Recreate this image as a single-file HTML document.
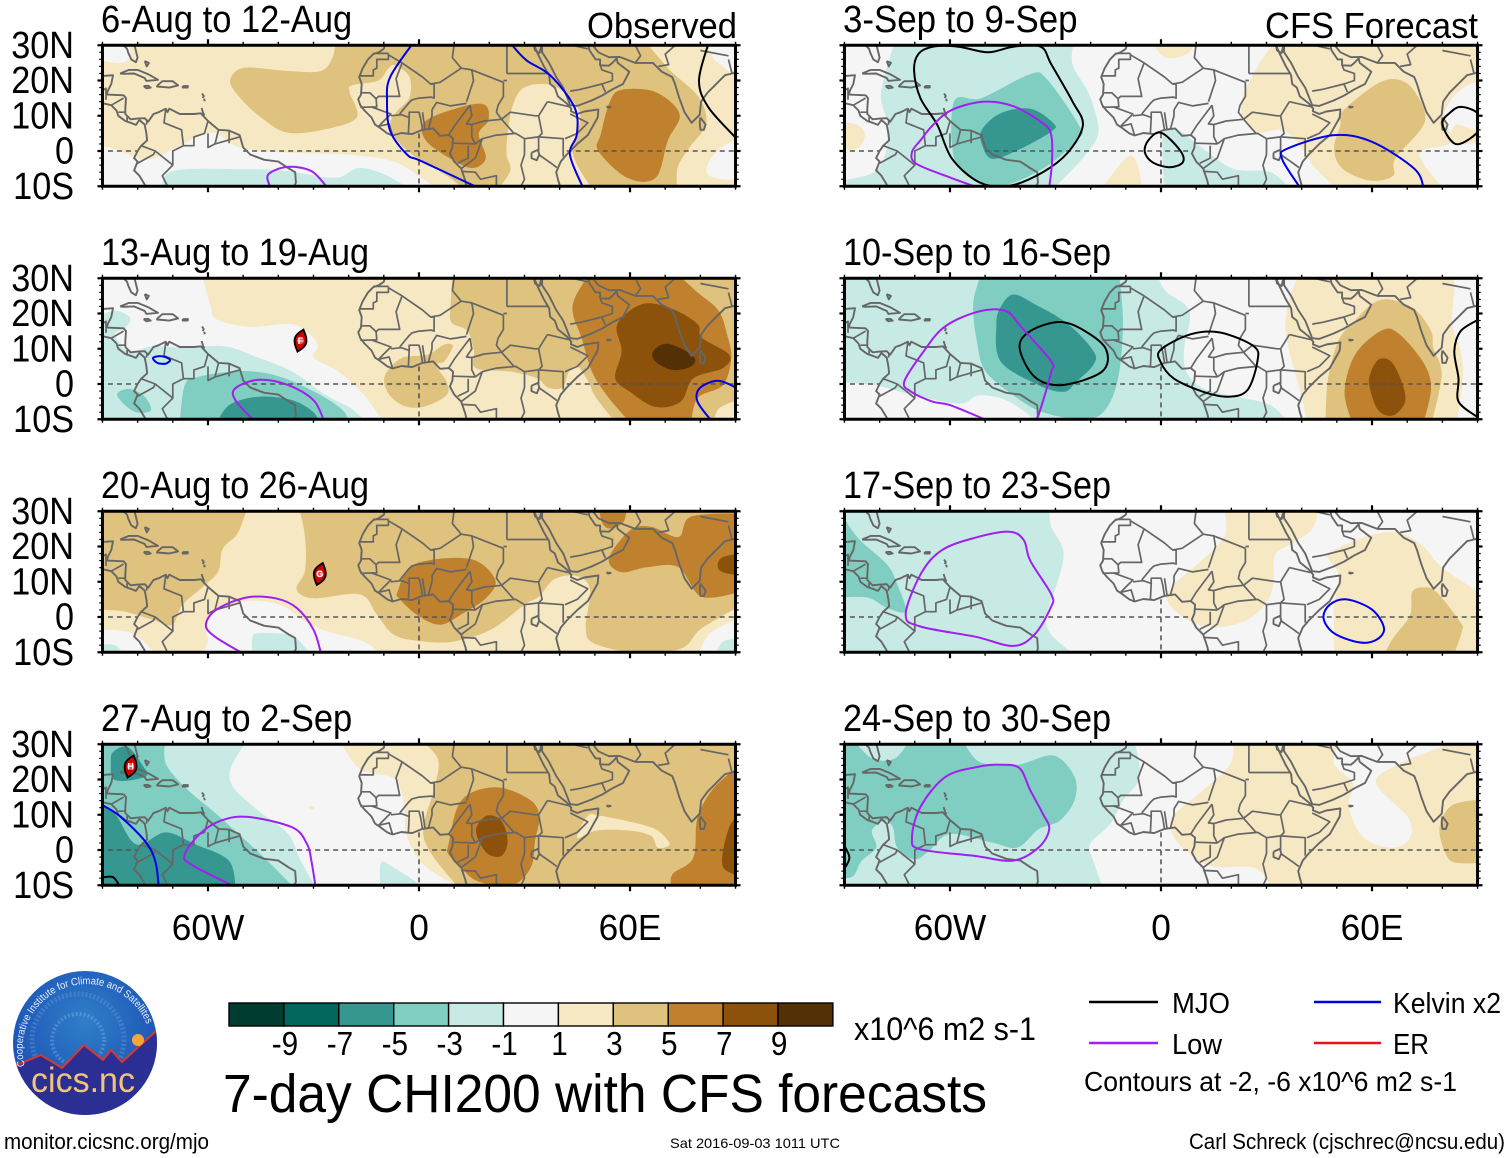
<!DOCTYPE html>
<html lang="en">
<head>
<meta charset="utf-8">
<title>7-day CHI200 with CFS forecasts</title>
<style>
html,body{margin:0;padding:0;background:#fff;width:1510px;height:1158px;overflow:hidden}
svg{display:block}
text{font-family:"Liberation Sans",sans-serif;fill:#000}
</style>
</head>
<body>
<svg id="chart" xmlns="http://www.w3.org/2000/svg" width="1510" height="1158" viewBox="0 0 1510 1158">
  <defs>
    <radialGradient id="logoSky" cx="50%" cy="35%" r="70%">
      <stop offset="0" stop-color="#2f7fc8"/><stop offset="0.7" stop-color="#1f58b8"/><stop offset="1" stop-color="#1c3fa8"/>
    </radialGradient>
    <clipPath id="logoClip"><circle cx="85" cy="1043" r="72"/></clipPath>
    <path id="logoArc" d="M 25 1066 A 64 64 0 1 1 149 1031"/>
  </defs>
  <g id="panels"></g>

  <text x="587" y="38" font-size="36" textLength="150" lengthAdjust="spacingAndGlyphs">Observed</text>
  <text x="1265" y="38" font-size="36" textLength="213" lengthAdjust="spacingAndGlyphs">CFS Forecast</text>

  <g id="colorbar"></g>
  <text x="854" y="1040" font-size="32" textLength="182" lengthAdjust="spacingAndGlyphs">x10^6 m2 s-1</text>
  <text x="223" y="1112" font-size="54" textLength="764" lengthAdjust="spacingAndGlyphs">7-day CHI200 with CFS forecasts</text>

  <g>
    <line x1="1089" y1="1002" x2="1158" y2="1002" stroke="#000" stroke-width="2.4"/>
    <text x="1172" y="1013" font-size="29" textLength="58" lengthAdjust="spacingAndGlyphs">MJO</text>
    <line x1="1314" y1="1002" x2="1381" y2="1002" stroke="#0000e6" stroke-width="2.4"/>
    <text x="1393" y="1013" font-size="29" textLength="108" lengthAdjust="spacingAndGlyphs">Kelvin x2</text>
    <line x1="1089" y1="1043" x2="1158" y2="1043" stroke="#a020f0" stroke-width="2.4"/>
    <text x="1172" y="1054" font-size="29" textLength="50" lengthAdjust="spacingAndGlyphs">Low</text>
    <line x1="1314" y1="1043" x2="1381" y2="1043" stroke="#e8141c" stroke-width="2.4"/>
    <text x="1393" y="1054" font-size="29" textLength="36" lengthAdjust="spacingAndGlyphs">ER</text>
    <text x="1084" y="1091" font-size="28" textLength="373" lengthAdjust="spacingAndGlyphs">Contours at -2, -6 x10^6 m2 s-1</text>
  </g>

  <text x="4" y="1149" font-size="22" textLength="205" lengthAdjust="spacingAndGlyphs">monitor.cicsnc.org/mjo</text>
  <text x="670" y="1148" font-size="14" textLength="170" lengthAdjust="spacingAndGlyphs">Sat 2016-09-03 1011 UTC</text>
  <text x="1189" y="1149" font-size="22" textLength="316" lengthAdjust="spacingAndGlyphs">Carl Schreck (cjschrec@ncsu.edu)</text>

  <g>
    <circle cx="85" cy="1043" r="72" fill="url(#logoSky)"/>
    <g clip-path="url(#logoClip)">
      <circle cx="78" cy="1040" r="46" fill="none" stroke="#6f9ad8" stroke-width="5" stroke-dasharray="2 2" opacity=".4"/>
      <circle cx="78" cy="1040" r="26" fill="none" stroke="#8fb2e4" stroke-width="4" stroke-dasharray="2 2" opacity=".4"/>
      <polygon points="10,1068 41,1055 62,1068 84,1045 103,1060 111,1050 122,1062 160,1028 160,1120 10,1120" fill="#2b2f94"/>
      <polyline points="14,1066 41,1055 62,1068 84,1045 103,1060 111,1050 122,1062 156,1031" fill="none" stroke="#d8382c" stroke-width="2"/>
      <circle cx="138" cy="1040" r="6" fill="#f3a63a"/>
    </g>
    <text font-size="10.5" style="fill:#e8eefc"><textPath href="#logoArc" textLength="195" lengthAdjust="spacingAndGlyphs">Cooperative Institute for Climate and Satellites</textPath></text>
    <text x="31" y="1092" font-size="35" textLength="104" lengthAdjust="spacingAndGlyphs" style="fill:#f2c477">cics.nc</text>
  </g>
</svg>

<script>
/* ---------- categories and tick labels ---------- */
const panelTitles = ["6-Aug to 12-Aug","13-Aug to 19-Aug","20-Aug to 26-Aug","27-Aug to 2-Sep","3-Sep to 9-Sep","10-Sep to 16-Sep","17-Sep to 23-Sep","24-Sep to 30-Sep"];
const latTicks = [30,20,10,0,-10];
const latTickLabels = ["30N","20N","10N","0","10S"];
const lonTicks = [-60,0,60];
const lonTickLabels = ["60W","0","60E"];
const levelColors = ["#003c30","#01665e","#35978f","#80cdc1","#c7eae5","#f5f5f5","#f6e8c3","#dfc27d","#bf812d","#8c510a","#543005"];
const colorbarLabels = ["-9","-7","-5","-3","-1","1","3","5","7","9"];
const contourColors = {mjo:"#000000",low:"#a020f0",kelvin:"#0000e6",er:"#e8141c"};
const backgroundValues = [2,2,2,0,0,0,0,0];

/* ---------- geography (lon,lat pairs) ---------- */
const coastlines = [
 [-9.6,30.5,-10,29,-11.5,28,-13,27.5,-14.5,26,-16,23.5,-17,21,-16.3,19,-16.5,16,-17.3,14.7,-16.7,13,-15.5,11.5,-13.5,9.5,-12.5,7.5,-11,6.5,-9,5,-7.5,4.4,-5,5.1,-2,4.8,1,6,4,6.4,6,4.3,8.5,4.5,9.7,3.5,9.5,1,8.8,-0.7,10,-3,12,-5,13.2,-8.5,13.7,-11],
 [32.5,30.5,33.8,27.5,35.5,24,37,21.5,37.3,19,38.6,18,39.5,15.5,42,13.5,43.3,12,43.2,11.3,45,10.5,47,11.2,51,11.8,50.8,9.5,48,4.5,45,2,42,-1,40.3,-3,39,-6,39.5,-8,40.4,-11],
 [34.7,28,35,29.7,35,28,37,25,39,21,41,18,43,13,45,12.8,49,14.3,52,15.7,55,17.5,58,19,59.8,22.5,56.5,25,56.2,26.3,55,25,54,24.2,51.5,24.3,51.5,26,50.2,26,48.5,28.5,48,30.5],
 [32.5,30.5,33,28.5,34.3,27.8,34.7,29.5],
 [49,30.5,51,28,54,26.6,57,26.7,61.5,25,66.5,25,67.5,24,69,22.5,72,21,72.8,19,74,15,75.5,11,77.5,8,79.8,10.3,80.2,14,82,16.5,85,19.5,87,21.5,89,22,91,22.5],
 [80,9.5,81.5,7.5,81,6,80,6,79.8,8,80,9.5],
 [53.3,12.6,54.5,12.5,53.8,12.3,53.3,12.6],
 [32,-0.5,33.8,0.3,34.2,-1,33.5,-2.6,32,-2,32,-0.5],
 [-81,30.5,-80,26.5,-80.5,25.2,-81.8,26,-82.7,28,-83,29,-84,30,-86,30.4],
 [-91,21.2,-87,21.5,-87.5,19,-88.5,17,-88.7,16,-84,15.8,-83.3,15,-83.5,12,-83.5,10.5,-82,9,-80,9.2,-78,9.3,-77,8.3,-75.5,10.5,-74,11,-72,12,-71.5,11,-71,12,-68,10.5,-64,10.5,-62,10.7,-60,8.5,-57,6,-54,5.8,-51,4.5,-50,1,-48,-1,-44,-2.5,-40,-3,-37,-5,-35.2,-6,-35,-9,-35.8,-11],
 [-91,13.8,-87.5,13,-86,11.5,-85.5,10,-83.5,8.5,-82,8,-80.5,7.4,-79.5,8.8,-78,7.5,-77.5,5,-77.3,3,-79,1.5,-80,0,-81,-2,-80,-3,-81,-5.5,-79.5,-7,-78,-9.5,-77.5,-11],
 [-85,22,-82.5,23,-80,23,-77,21.8,-74.2,20.2,-77.5,19.9,-78,20.7,-81,22,-84,21.9,-85,22],
 [-74.5,18.5,-73,19.8,-70,19.8,-68.5,18.6,-71,18,-74.5,18.3,-74.5,18.5],
 [-78.3,18.4,-77,18.5,-76.3,18,-77.5,17.8,-78.3,18.4],
 [-67.2,18.4,-65.7,18.4,-65.8,18,-67.2,18,-67.2,18.4],
 [-78,25.5,-77.4,24,-76.8,25,-78,25.5],[-61.7,16.3,-61.2,15.6,-61.5,15],[-61.1,14.8,-60.9,14.1],[-61.8,12.2,-61.2,10.2,-61,10.6]
];
const borders = [
 [-13,27.7,-8.7,27.7],[-8.7,27.7,-8.7,26,-12,26,-12,23.5,-13,23,-13,21.3,-16.9,21.3],[-8.7,27.3,-4.8,25,1,21,3.3,19,4.3,19,4.3,15,3.5,15.3,0,15,-2,14.5,-3,13.5,-5.5,10.5],
 [-4.8,25,-6.5,20.5,-5.5,15.5,-11.5,15.5,-12.2,14.8,-14,16.5,-16.3,16.5],[-12.2,14.8,-12,12.5,-16.7,12.4],[-13.5,12.5,-8,10.5,-10,8.5,-11.5,7],[-11.5,7,-8.5,7.7,-7.5,4.4],[-8,10,-5,10.3,-2.8,9.5,-3,5],[-2.8,9.5,-2.8,11,0,11,0.5,9,1,6],[1,11,1.7,6.2],[2.7,6.3,3.7,10,3.7,11.7],
 [3.3,19,6,19.5,12,23.5],[10,30.5,9.5,26.5,12,23.5,15,23,24,19.5],[25,30.5,25,22],[25,22,37,22],[24,19.5,24,15.5,22.5,13,22,11,23.5,9],[25,20,24,20],
 [15,23,15.5,20,13.5,14],[3.7,11.7,5,13.8,9,12.8,13.5,13.5],[8.5,4.6,10,7,13,11,14.5,13],[14.5,13,15,10,13.5,7.7,15,7.5,15,4,16,2],[15,7.5,18.5,8.5,23.5,9],[23.5,9,27,5],[16,2,18,3.5,22,4.5,27.5,5,30,3.5],[9.8,2.2,16,2],[12,-5,16,-2,18,3.5],[11,-3.5,14,-2,14,1.5],
 [30,3.5,30,-1,29,-4,30,-8,28.5,-11],[12,-5.8,16,-6,17.5,-8,22,-7,22,-11],[36.5,14,34,10,35,5,34,4,41,3.5,41,-1.6],[34,4,34,0],[34,-1,37.6,-3.5,39.2,-4.7],[23.5,9,26,11,33,10,34,10],[30,3.5,34,4],[41.5,3.5,45,5,48,8,43,10.5],[36.5,14,43,12.5],
 [43,17,46,17.5,52,19,55,20,55,22,52,23,51.5,24.5],[52,19,53,16.7],[39,31,48,29],[68,24,71,24.5,70,27.5,74,31],[61.5,25,63,27,61,31],[80,28.5,88,27],[88,26,89,22],
 [-72,12,-72.5,8,-70,7,-67.5,6,-67,1.5],[-60,8.5,-61,5,-64,4,-64,1.5,-67,1.5],[-57,6,-58,2],[-54,5.8,-54,2.2],[-60,5,-60,1,-58,2,-51,4],[-79,1.5,-75,0,-70,-4,-70,0,-67,1.5],[-80,-3.5,-75.5,-1,-75,0],[-70,-4,-73,-7,-71,-11],[-77.5,7.5,-77.3,8.7],
 [-91,16.5,-89,17.8,-89,15.8],[-89,14.5,-89,15.8],[-87.5,13,-84,15],[-85.5,11,-83.7,11],[-83,9.7,-83,8.3]
];
const equatorOceanSpans = [[-91,-80],[-50,9],[42,91]];
const meridianOceanSpan = [5,-10];

/* ---------- shaded CHI200 anomaly areas: v = value, p = lon,lat outline ---------- */
const fillsP1 = [
 {v:0,p:[-91,1,-78,-2.4,-70,0.5,-59,5.2,-51,1,-37.4,-0.5,-21,-1,-7.5,-2.9,0.7,-7.6,6,-11.5,-92,-11.5]},
 {v:0,p:[-92,31.5,-83,31.5,-82,27,-85,25,-92,26]},
 {v:0,p:[92,4,86,1,82.5,-3,82,-6.5,86,-8,92,-8]},
 {v:0,p:[82,31.5,84,26,92,20,92,31.5]},
 {v:-2,p:[-72.8,-11.5,-70,-5.7,-48.3,-5.2,-37.4,-5.7,-23.8,-7.6,-17,-4.8,-8.8,-7.1,-2,-11.5]},
 {v:4,p:[-23.8,31.5,64,31.5,71.4,22.9,79.6,15.2,81.6,7.6,76.9,1,73.5,-4.8,73.5,-11.5,49.7,-11.5,44.9,-3.8,43.5,1,44.9,4.8,45.6,11.4,40.1,17.6,34.7,19,29.3,17.6,26.5,12.4,25.2,4.8,24.9,-1,25.9,-5.7,21.8,-11.5,13.6,-11.5,7.5,-6.7,-0.7,-1.9,-6.1,2.9,-8.2,7.6,-6.1,11.4,-2.7,15.2,-2.7,21,-6.8,24.3,-8.8,23.3,-11.6,20,-19,18.6,-19.7,16.7,-17.7,9.5,-26.5,6.2,-37.4,5.2,-44.9,9.5,-51,15.2,-53.7,20,-49.7,23.6,-37.4,22.7,-27.9,22.7,-24.5,26.7]},
 {v:6,p:[2,8.6,13.6,12.9,19,12.9,19.7,8.6,17,4.8,19,-1.9,15.6,-4.8,10.2,-2.9,2,2.9]},
 {v:6,p:[54.4,14.3,57.8,17.4,67.3,16.7,74.1,10.5,70.7,2.9,67.3,-7.6,59.2,-7.6,51,0,51.7,4.8]}
];
const fillsP2 = [
 {v:0,p:[-92,31.5,-61.8,31.5,-59.4,22.7,-57.6,18.4,-48,16.2,-36,17,-30,13.1,-28.8,10.3,-30,7.4,-22.8,3.5,-15.6,-3.2,-9.6,-11.5,-92,-11.5]},
 {v:-2,p:[-92,19,-86.4,20.8,-82.2,18.9,-83.4,16,-86.4,14.1,-82.8,9.3,-75.6,10.7,-66,10.3,-55.2,10.7,-45.6,7.4,-36,3.5,-26.4,-3.2,-19.2,-7,-14.4,-11.5,-92,-11.5]},
 {v:-4,p:[-68,-11.5,-66.6,-0.3,-62.4,2.1,-50.4,3.7,-39.6,2.1,-28.8,-2.7,-21.6,-7.5,-19.8,-11.5]},
 {v:-4,p:[-85.8,-2.7,-82.2,-1.4,-78,-3.6,-76.2,-7.5,-80.4,-8,-84,-5.6]},
 {v:-6,p:[-57.6,-11.5,-54,-6,-45.6,-3.6,-36,-4.6,-30,-8,-28.2,-11.5]},
 {v:4,p:[-9.6,2.6,-4.8,7.4,2.4,8.3,7.2,11.2,9.6,10.7,7.2,6.4,4.8,5.4,7.8,0.7,7.8,-3.2,1.2,-6.5,-4.8,-6,-9,-2.2]},
 {v:4,p:[9.6,31.5,9,22.7,9.2,17.5,13.8,15,15.6,9.3,16.2,4.5,26.4,3.5,33.6,1.6,36.6,-1,40.8,-1,42.6,3.5,45,5,48,1,50.4,-4,56.4,-11.5,84,-11.5,85.2,-7,92,-4,92,31.5]},
 {v:2,p:[85,-11.5,85.2,-7.5,92,-4.6,92,-11.5]},
 {v:6,p:[48.6,31.5,44.4,24.6,43.8,19.8,46.2,13.1,49.2,3.5,54,-4,60.6,-11.5,77.4,-11.5,79.2,-4,86.4,-0.3,88.8,7.4,87.6,14,85.2,20.8,79.2,26,73.2,31.5]},
 {v:8,p:[56.4,17,63.6,22.7,72,21.3,79.2,17,80.4,13.1,88.2,8.3,86.4,4.5,78,1.6,74.4,-5,67.2,-6.5,60,-2.2,55.8,1.6,57.6,9.3]},
 {v:10,p:[66.6,9.3,70.8,11.4,78,7.9,77.4,5,72,4,67.2,6.4]}
];
const fillsP3 = [
 {v:4,p:[-92,31.5,-48.6,31.5,-51.6,23.7,-55.8,19.4,-57,13.1,-60.6,9.3,-67.2,3.5,-70.2,-2.2,-75.6,-0.8,-84,1.6,-92,2.1]},
 {v:4,p:[-34.2,31.5,-32.4,22.7,-32.4,13.1,-34.8,7.9,-30,5.3,-16.8,6.4,-12,0.7,-7.2,-5,0,-6.8,9.6,-7,20.4,-3.6,30,3.5,34.2,5.9,38.4,10.7,44.4,11.7,48.6,8.1,47.4,-3.2,49.8,-7.5,61.2,-10,74.4,-9,80.4,-3.2,92,3.5,92,31.5]},
 {v:0,p:[-92,-3.6,-81.6,-4.6,-74,-11.5,-92,-11.5]},
 {v:0,p:[-60.6,-3.2,-57.6,1.6,-49.2,4.5,-39.6,3.5,-32.4,-1.2,-26.4,-4,-15.6,-7,-10.2,-11.5,-62.4,-11.5,-60,-7]},
 {v:0,p:[92,0,82.8,-4.6,79.2,-11.5,92,-11.5]},
 {v:-2,p:[-92,-8,-86.4,-8,-83.4,-11.5,-92,-11.5]},
 {v:-2,p:[-47.4,-6,-45.6,-4.6,-37.2,-4.9,-34.8,-6,-30,-11.5,-47.4,-11.5]},
 {v:-2,p:[84,-11.5,86.4,-7,92,-6,92,-11.5]},
 {v:6,p:[-6,7.4,-1.2,15,14.4,16.5,21.6,10.7,19.2,5.5,12,0.7,6,-2.2,0,0.2,-5.4,5]},
 {v:6,p:[51,31.5,59,31.5,58.2,27,54.6,25.1,52.2,26.5]},
 {v:6,p:[54,16.5,60,24.6,66,25.6,73.8,22.7,77.4,28.5,92,29.4,92,7.4,80.4,5.7,73.8,14.1,64.8,14.1,57.6,12.7]},
 {v:8,p:[92,18,86.4,17,84.9,14.6,86.4,12.7,92,11.7]}
];
const fillsP4 = [
 {v:2,p:[-22.8,31.5,-16.8,23,-7.2,20.2,-4.2,13,-3.6,4.5,1.2,-4.1,13.2,-11.5,92,-11.5,92,31.5]},
 {v:2,p:[-31.5,12,-30.5,12.6,-29.5,12,-30.5,11.5]},
 {v:4,p:[0,31.5,5.4,25.7,4.2,17,1.2,6,3.6,-1.2,12,-11.5,92,-11.5,92,31.5]},
 {v:2,p:[45,3.5,48,9.7,51.6,9.7,66,6.4,70.8,2.6,70.8,1.1,67.8,0.7,66,4,60,5.5,50.4,5.5]},
 {v:6,p:[8.4,1.6,12,14,21.6,17.8,31.2,14.5,34.2,9.7,33,2.6,31.8,-5,26.4,-10,16.8,-8.9,12,-5,8.4,-1.2]},
 {v:6,p:[92,24.5,84,17.8,79.2,9.2,78,-2.2,72,-7,72,-11.5,92,-11.5]},
 {v:8,p:[16.2,5.4,19.2,9.7,23.4,8.3,25.2,2.6,23.4,-1.7,19.2,-0.8]},
 {v:8,p:[92,11,88.2,6.4,86.2,-4,90,-7.4,92,-11.5]},
 {v:-2,p:[-48.6,31.5,-53.4,23.5,-52.8,17.8,-45.6,11.1,-37.2,4.5,-33.6,-3.1,-28.8,-11.5,-92,-11.5,-92,31.5]},
 {v:-2,p:[-10.8,-3.6,-7.2,-5,0,-9.6,2,-11.5,-11,-11.5]},
 {v:-4,p:[-72,31.5,-72,24.5,-66,17.3,-57.6,10.2,-49.2,2.6,-42,-4.1,-34.8,-11.5,-92,-11.5,-92,31.5]},
 {v:-6,p:[-87,27.8,-82.8,29.2,-78.6,24,-77.4,21.1,-82.8,19.7,-87,20.2,-87.6,24.4]},
 {v:-6,p:[-92,14,-86.4,10.2,-80.4,1.6,-72,5,-63.6,1.6,-54,-3.1,-52.2,-11.5,-92,-11.5]}
];
const fillsP5 = [
 {v:2,p:[33,31.5,27.6,24.2,22.8,13.1,26.4,5.5,34.8,5.9,40.2,0.7,43.2,-4.1,48,-8.9,50,-11.5,81,-11.5,74.4,-3.2,74.4,0.2,82.8,2.6,80.4,9.3,82.8,15,87.6,18.9,92,19.8,92,31.5]},
 {v:2,p:[84,7.4,92,4.5,92,2.6,83,2.1]},
 {v:2,p:[-3,31.5,1.2,26.5,7.2,27.5,10.2,31.5]},
 {v:2,p:[-92,8.3,-86.4,7.4,-84.2,4.5,-86.4,0.7,-92,0.2]},
 {v:2,p:[-17.4,-11.5,-9.6,-1.7,-6.6,-4.1,-5.4,-11.5]},
 {v:-2,p:[-75.6,31.5,-24.6,31.5,-25.2,24.6,-20.4,16,-17.8,5.5,-21.6,-1.2,-28.8,-8.9,-32,-11.5,-92,-11.5,-92,-8.5,-81.6,-6,-78,0.7,-78,8.3,-79.5,14,-79.2,18.9]},
 {v:-2,p:[0.6,4.5,4.8,5.9,10.8,1.6,20.4,-5,31.2,-6,37.2,-11.5,1,-11.5]},
 {v:4,p:[51.6,11.2,61.2,18.9,67.2,20.3,72,17,75,8.3,66.6,-2.2,66,-7,59.4,-8.4,51.6,-5,49.2,0.7,51,7.4]},
 {v:-4,p:[-58.8,14.1,-51,15,-37.2,21.8,-32.4,20.3,-23.4,7.4,-23.4,3.5,-33.6,-5,-45.6,-10,-52.8,-8,-58.8,-2.2]},
 {v:-6,p:[-51,5.9,-45.6,10.7,-37.2,12,-30.6,7.9,-31.2,5.5,-40.8,0.2,-48,-2.2,-50.8,1.6]}
];
const fillsP6 = [
 {v:-2,p:[-1.2,31.5,1.2,26.5,7.2,22.2,8.2,18,6.6,10.3,7.2,3.5,12,-1.2,21.6,-3.6,31.2,-6,36.6,-11.5,-92,-11.5,-92,31.5]},
 {v:0,p:[-92,0.5,-81.6,-0.3,-72,-2.7,-57.6,-5.6,-51.6,-3.2,-43.2,-5,-34,-11.5,-92,-11.5]},
 {v:-2,p:[87.6,-11.5,92,-2.2,92,-11.5]},
 {v:-4,p:[-51,31.5,-53.4,22.7,-52.2,11.2,-49.8,3.5,-42,-3.2,-33.6,-8,-21.6,-10,-15.6,-7,-12,2.6,-10.8,18,-12,31.5]},
 {v:-6,p:[-45.6,21.8,-42,25.4,-36,22.7,-26.4,17,-19.2,9.3,-19.2,5.5,-24,0.7,-27.6,-2.2,-34.8,-0.3,-45.6,6.4,-46.8,17]},
 {v:2,p:[39.6,31.5,36.6,24.6,35.4,16,37.2,6.4,40.2,-4,41.4,-11.5,84,-11.5,85.8,1.6,85.2,9.3,82.8,17,83.4,27.5,82.8,31.5]},
 {v:4,p:[60,22.7,64.8,24,72,21.3,76.8,15,77.4,10.3,79.8,2.6,76.8,-11.5,46.8,-11.5,47.4,0.7,50.4,12.2,55.2,18]},
 {v:6,p:[62.4,15,67.2,14.6,74.4,6.4,76.8,-1.2,74.4,-11.5,54.6,-11.5,52.2,-2.2,55.2,8.3]},
 {v:8,p:[59.4,2.6,61.8,6.9,65.4,6.4,68.4,0.7,69.4,-5,66,-8.9,61.8,-7.5,59.4,-1.2]}
];
const fillsP7 = [
 {v:-2,p:[-31.8,31.5,-31.2,25.6,-27.8,19,-28.8,12,-32.4,0.7,-31.2,-5,-23.4,-11.5,-92,-11.5,-92,31.5]},
 {v:-4,p:[-92,31.5,-86.4,22.7,-78,15,-75,9.3,-72.6,1.6,-78,2.6,-83.4,5.5,-92,5.5]},
 {v:2,p:[17.7,31.5,18.2,23.3,11.1,15.6,3.5,9,2,4.2,8.3,-1.3,15.8,-2.9,24.4,-0.9,30,4.2,32,9.9,32.4,17.6,37.6,21,43,25,45,31.5]},
 {v:2,p:[48,18.4,60,23.3,68,23.8,74.6,20,80,14,92,6,92,-11.5,49.2,-11.5,49.2,-2.2,49.2,3.4,50.5,11.9,48,16]},
 {v:4,p:[63,-11.5,66,-6,70.8,0.5,71.4,7,74.6,8.4,78.4,7,85,-1.3,85.6,-3.9,83,-11.5]}
];
const fillsP8 = [
 {v:-2,p:[-92,31.5,-7.8,31.5,-6,20.8,-10.8,14.1,-14.4,7.4,-20.2,1.6,-19.2,-3.2,-16.2,-11.5,-92,-11.5]},
 {v:-4,p:[-92,31.5,-87.6,31.5,-82.2,26,-75.6,26,-71.4,31.5,-56.4,31.5,-51.6,25,-40.8,24.2,-30.6,26.8,-24.6,20.8,-24.6,14.1,-28.8,8.3,-34.8,5.9,-40.8,0.7,-48,2.1,-60,4.5,-66,-0.3,-70.2,-2.7,-75,0.7,-76.2,6.4,-78.6,8.3,-82.2,5.5,-81,0.7,-85.2,-3.2,-87.6,-7.5,-92,-8]},
 {v:2,p:[20.4,31.5,19.8,24.6,12,17,3.6,9.8,3,5,7.2,-0.3,14.4,-4.6,26.4,-5,31.2,-10,32.4,-11.5,92,-11.5,92,31.5]},
 {v:0,p:[51,31.5,49.2,24.6,54.6,18.9,53.4,12.2,57.6,3.5,66,0.7,70.8,3.5,70.2,9.3,61.2,18.9,67.2,24.2,81.6,30.1,82.8,31.5]},
 {v:4,p:[92,14.4,82.8,12.7,79.2,6.4,81,-1.2,84,-3.6,92,-3.6]}
];
const panelFills = [fillsP1,fillsP2,fillsP3,fillsP4,fillsP5,fillsP6,fillsP7,fillsP8];

/* ---------- wave contours: t = type, closed = ring ---------- */
const contoursP1 = [
 {t:"kelvin",p:[-1.8,30.5,-8.2,21,-9.1,14.3,-8.2,5.7,-3.4,-1,0.7,-2.9,17,-10.5]},
 {t:"kelvin",p:[26.5,30,30.6,25.7,37.4,21.4,44.2,12.4,44.9,4.8,42.9,-1,46.7,-10.5]},
 {t:"low",p:[-42.2,-10.5,-42.9,-6.7,-37.4,-4.5,-30.6,-5.7,-26,-10.5]},
 {t:"mjo",p:[82.3,30.5,79.6,20,82.3,12.4,90.5,3.3]}
];
const contoursP2 = [
 {t:"kelvin",closed:true,p:[-75.6,7.4,-73.2,7.9,-70.8,6.9,-72,5.8,-74.4,6]},
 {t:"kelvin",p:[83.2,-10.5,79.2,-5,79.8,-1.2,85,0.9,90.5,-1.2]},
 {t:"low",p:[-46.8,-10.5,-52.2,-4.6,-52.2,-1.2,-45.6,1.2,-37.2,-0.3,-30,-4.6,-27,-10.5]}
];
const contoursP3 = [
 {t:"low",p:[-49.8,-10.5,-58,-5.6,-60.6,-2.2,-57.6,2.1,-49.2,5.5,-40.8,5.3,-34.8,2.6,-30,-3.6,-27.8,-10.5]}
];
const contoursP4 = [
 {t:"kelvin",p:[-90.5,13,-85.2,9.7,-78,2.6,-75,-3.1,-74,-10.5]},
 {t:"low",p:[-52.2,-10.5,-64.8,-4.1,-66.6,-1.2,-62.4,4.5,-56.4,8.3,-48.6,9.4,-36,6.4,-31.8,1.6,-30.6,-3.1,-29.4,-10.5]},
 {t:"mjo",p:[-90.5,-7.9,-87,-7.7,-85,-10.5]}
];
const contoursP5 = [
 {t:"mjo",closed:true,p:[-69,27.5,-70.2,22.7,-68.4,15,-63.6,7.4,-59.4,-2.2,-51.6,-8.9,-43.2,-9.9,-33.6,-6,-26.4,-0.3,-22.2,7.4,-25.2,14.1,-31.2,24.6,-34.2,29.6,-42,29.6,-49.2,28,-57.6,29.6,-64.8,29.6]},
 {t:"mjo",closed:true,p:[0,5.2,5.4,0.2,6.2,-3.2,2.4,-4.6,-2.4,-3.2,-4.6,-0.3,-3.6,3]},
 {t:"mjo",closed:true,p:[85.2,12.5,90,10.7,90.5,6,85,2,82,3.5,80,8,82,10.7]},
 {t:"low",p:[-51.6,-10.5,-60,-7.5,-69.6,-3.6,-70.8,-0.3,-68.4,3,-64.8,7.4,-59.4,11.7,-50.4,14,-42,12.7,-33.6,7.9,-31.2,4.5,-31,-3.2,-31.8,-10.5]},
 {t:"kelvin",p:[39.6,-10.5,34.4,-2.2,36,0.7,49.2,4.5,60,2.6,72,-5,74.7,-10.5]}
];
const contoursP6 = [
 {t:"mjo",closed:true,p:[-28.8,17.6,-21.6,15,-15.6,9.8,-16.8,3.5,-28.2,-0.3,-36,2.1,-40.2,10.3,-37.2,15]},
 {t:"mjo",closed:true,p:[0,9.8,8.4,14.1,16.8,14.6,26.4,10.7,27.4,6.4,24.6,-1.7,19.2,-3.6,12,-2.2,3.6,1.6,-0.2,6.4]},
 {t:"mjo",p:[90.5,18.4,85.2,15,83.4,9.3,84.6,1.6,84.6,-5,90,-9.4]},
 {t:"low",p:[-49,-10.5,-60,-6,-65,-5,-71,-2.2,-73,0.7,-67.8,8.8,-61.8,16,-52.8,20.3,-44.4,20.8,-39.6,16,-31.2,6.4,-31.2,3.5,-33.6,-5,-35.4,-10.5]}
];
const contoursP7 = [
 {t:"low",closed:true,p:[-43.2,24.2,-39,21.8,-37.2,16,-31.2,6.4,-31.4,2.6,-36,-5,-42,-8.2,-52.8,-5.6,-68.4,-2.7,-72.6,0.7,-68.4,12,-62.4,18.9,-52.8,22.5]},
 {t:"kelvin",closed:true,p:[52.8,5,60,2.1,63.4,-3.2,61.2,-6.5,56.4,-7.2,49.2,-4.6,46.2,-0.3,48,3.5]}
];
const contoursP8 = [
 {t:"low",closed:true,p:[-45.6,24.2,-40.2,23.2,-37.2,17,-33.6,10.3,-31.8,5.9,-34.8,0.7,-42,-3,-52.8,-1.7,-68.4,0.2,-70.8,3.5,-68.4,12.2,-61.2,20.8,-51.6,23.7]},
 {t:"mjo",p:[-90.5,2,-88.6,-2.2,-90.5,-6]}
];
const panelContours = [contoursP1,contoursP2,contoursP3,contoursP4,contoursP5,contoursP6,contoursP7,contoursP8];

/* ---------- tropical cyclones ---------- */
const stormPanels = [1,2,3];
const stormLons = [-33.7,-28.2,-82];
const stormLats = [12.3,12.2,23.7];
const stormLetters = ["F","G","H"];

/* ---------- axis functions ---------- */
const NS = "http://www.w3.org/2000/svg";
const PX_PER_DEG_X = 3.517, PX_PER_DEG_Y = 3.525;
function panelLayout(i){
  const col = i < 4 ? 0 : 1, row = i % 4;
  return {zeroX: col ? 1161 : 419, eqY: 151 + row * 233, col, row};
}
function xAxis(L, lon){ return L.zeroX + lon * PX_PER_DEG_X; }
function yAxis(L, lat){ return L.eqY - lat * PX_PER_DEG_Y; }
function colorFor(v){ return levelColors[Math.max(0, Math.min(10, Math.floor((v + 11) / 2)))]; }
function outside(lon, lat){ return lon > 91 || lon < -91 || lat > 31 || lat < -11; }

function smoothPath(L, flat, closed){
  const n = flat.length / 2, pts = [];
  for (let k = 0; k < n; k++) pts.push({x:xAxis(L,flat[2*k]), y:yAxis(L,flat[2*k+1]), out:outside(flat[2*k],flat[2*k+1])});
  const at = k => closed ? pts[(k+n)%n] : pts[Math.max(0,Math.min(n-1,k))];
  const tan = k => { const P = at(k); if (P.out) return {x:0,y:0}; const a = at(k-1), b = at(k+1); return {x:(b.x-a.x)/6, y:(b.y-a.y)/6}; };
  let d = "M" + pts[0].x.toFixed(1) + " " + pts[0].y.toFixed(1);
  const segs = closed ? n : n - 1;
  for (let k = 0; k < segs; k++){
    const P = at(k), Q = at(k+1), t1 = tan(k), t2 = tan(k+1);
    d += "C" + (P.x+t1.x).toFixed(1) + " " + (P.y+t1.y).toFixed(1) + " " + (Q.x-t2.x).toFixed(1) + " " + (Q.y-t2.y).toFixed(1) + " " + Q.x.toFixed(1) + " " + Q.y.toFixed(1);
  }
  return closed ? d + "Z" : d;
}
function linePath(L, flat){
  let d = "";
  for (let k = 0; k < flat.length; k += 2) d += (k ? "L" : "M") + xAxis(L,flat[k]).toFixed(1) + " " + yAxis(L,flat[k+1]).toFixed(1);
  return d;
}
function make(tag, parent, attrs){
  const el = document.createElementNS(NS, tag);
  for (const key in attrs) el.setAttribute(key, attrs[key]);
  parent.appendChild(el);
  return el;
}

/* ---------- draw panels ---------- */
const root = document.getElementById("panels");
const defs = document.querySelector("#chart defs");
panelTitles.forEach(function(title, i){
  const L = panelLayout(i);
  const x0 = xAxis(L,-90), x1 = xAxis(L,90), y0 = yAxis(L,30), y1 = yAxis(L,-10);
  const clip = make("clipPath", defs, {id:"clip"+i});
  make("rect", clip, {x:x0, y:y0, width:x1-x0, height:y1-y0});

  const g = make("g", root, {});
  
  

  const t = make("text", g, {x: L.col ? 843 : 101, y: L.eqY - 119, "font-size": 38, textLength: title.length * 16.75, lengthAdjust: "spacingAndGlyphs"});
  t.textContent = title;
  
  

  const map = make("g", g, {"clip-path":"url(#clip"+i+")"});
  
  

  const bg = make("rect", map, {x:x0, y:y0, width:x1-x0, height:y1-y0, fill:colorFor(backgroundValues[i])});
  
  

  panelFills[i].forEach(function(f){
    const s = make("path", map, {d:smoothPath(L,f.p,true), fill:colorFor(f.v)});
    
    
  });

  equatorOceanSpans.forEach(function(sp){
    const e = make("line", map, {x1:xAxis(L,sp[0]), x2:xAxis(L,sp[1]), y1:yAxis(L,0), y2:yAxis(L,0), stroke:"#555", "stroke-width":1.6, "stroke-dasharray":"5 4"});
    
    
  });
  const pm = make("line", map, {x1:xAxis(L,0), x2:xAxis(L,0), y1:yAxis(L,meridianOceanSpan[0]), y2:yAxis(L,meridianOceanSpan[1]), stroke:"#555", "stroke-width":1.6, "stroke-dasharray":"5 4"});
  
  

  coastlines.forEach(function(c){
    const s = make("path", map, {d:linePath(L,c), fill:"none", stroke:"#666", "stroke-width":1.9, "stroke-linejoin":"round"});
    
    
  });
  borders.forEach(function(c){
    const s = make("path", map, {d:linePath(L,c), fill:"none", stroke:"#666", "stroke-width":1.7, "stroke-linejoin":"round"});
    
    
  });

  panelContours[i].forEach(function(c){
    const s = make("path", map, {d:smoothPath(L,c.p,!!c.closed), fill:"none", stroke:contourColors[c.t], "stroke-width":2});
    
    
  });

  stormLetters.forEach(function(letter, k){
    if (stormPanels[k] !== i) return;
    const cx = xAxis(L,stormLons[k]), cy = yAxis(L,stormLats[k]);
    const st = make("g", map, {transform:"translate("+cx.toFixed(1)+" "+cy.toFixed(1)+")"});
    
    
    make("path", st, {d:"M3 -11C0 -9 -6 -6 -6 0C-6 5 -4 8 -3 11C0 9 6 6 6 0C6 -5 4 -8 3 -11Z", fill:"#d00000", stroke:"#000", "stroke-width":1.8});
    make("circle", st, {cx:0, cy:0, r:3.6, fill:"#fff", opacity:0.35});
    const lt = make("text", st, {x:0, y:3.2, "font-size":9, "font-weight":"bold", "text-anchor":"middle", style:"fill:#fff"});
    lt.textContent = letter;
    
    
  });

  const frame = make("rect", g, {x:x0, y:y0, width:x1-x0, height:y1-y0, fill:"none", stroke:"#000", "stroke-width":3});
  
  

  /* longitude ticks: minor outward, major straddling the frame */
  for (let lon = -90; lon <= 90; lon += 10){
    const major = lonTicks.indexOf(lon) >= 0, len = major ? 6 : 3.5;
    [[y0,-len],[y1,len]].forEach(function(e){
      const tk = make("line", g, {x1:xAxis(L,lon), x2:xAxis(L,lon), y1:e[0], y2:e[0]+e[1], stroke:"#000", "stroke-width":major?2.2:1.4});
      
      
    });
  }
  /* latitude ticks every 2 degrees, major every 10 */
  for (let lat = -10; lat <= 30; lat += 2){
    const major = latTicks.indexOf(lat) >= 0, len = major ? 5 : 3.2;
    [[x0,-len],[x1,len]].forEach(function(e){
      const tk = make("line", g, {x1:e[0], x2:e[0]+e[1], y1:yAxis(L,lat), y2:yAxis(L,lat), stroke:"#000", "stroke-width":major?2.2:1.2});
      
      
    });
  }

  if (L.col === 0){
    latTicks.forEach(function(lat, k){
      const lb = make("text", g, {transform:"translate(74 "+(yAxis(L,lat)+12.5)+") scale(0.9 1)", "font-size":38, "text-anchor":"end"});
      lb.textContent = latTickLabels[k];
      
      
    });
  }
  if (L.row === 3){
    lonTicks.forEach(function(lon, k){
      const lb = make("text", g, {transform:"translate("+xAxis(L,lon).toFixed(1)+" 940) scale(0.98 1)", "font-size":36, "text-anchor":"middle"});
      lb.textContent = lonTickLabels[k];
      
      
    });
  }
});

/* ---------- colour bar ---------- */
const cb = document.getElementById("colorbar");
levelColors.forEach(function(col, k){
  const box = make("rect", cb, {x:229 + k*54.9, y:1003, width:54.9, height:23, fill:col, stroke:"#000", "stroke-width":1.4});
  
  
});
colorbarLabels.forEach(function(label, k){
  const lb = make("text", cb, {transform:"translate("+(285 + k*54.9).toFixed(1)+" 1055) scale(0.9 1)", "font-size":33, "text-anchor":"middle"});
  lb.textContent = label;
  
  
});
</script>
</body>
</html>
